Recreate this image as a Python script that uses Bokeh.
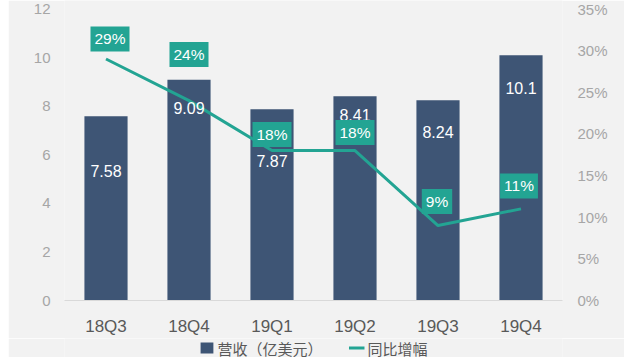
from bokeh.plotting import figure
from bokeh.layouts import row, column
from bokeh.models import (ColumnDataSource, Range1d, LinearAxis, FactorRange, Spacer,
                          Legend, LegendItem, FixedTicker, CustomJSTickFormatter)
from bokeh.core.properties import value
from bokeh.embed import file_html
from bokeh.resources import INLINE

quarters = ["18Q3", "18Q4", "19Q1", "19Q2", "19Q3", "19Q4"]
revenue = [7.58, 9.09, 7.87, 8.41, 8.24, 10.1]
growth = [29, 24, 18, 18, 9, 11]
revenue_text = ["7.58", "9.09", "7.87", "8.41", "8.24", "10.1"]
growth_text = ["29%", "24%", "18%", "18%", "9%", "11%"]
left_ticks = [0, 2, 4, 6, 8, 10, 12]
right_ticks = [0, 5, 10, 15, 20, 25, 30, 35]
legend_labels = ["营收（亿美元）", "同比增幅"]

# label layout (screen px, downward positive)
rev_label_drop = [55, 28, 52, 19, 32, 33]
pct_label_rise = [20, 46, 16, 18, 24, 23]
pct_label_shift = [4, 0, 0, 0, -1, -2]

BAR = "#3e5575"
TEAL = "#23a493"
BG = "#f2f2f2"

src = ColumnDataSource(dict(
    q=quarters, rev=revenue, g=growth, rt=revenue_text, gt=growth_text,
    rdrop=rev_label_drop, grise=[-r for r in pct_label_rise], gshift=pct_label_shift,
))

top = 12.35
p = figure(x_range=FactorRange(*quarters), y_range=Range1d(0, top),
           width=616, height=338, output_backend="svg", toolbar_location=None,
           min_border_left=56, min_border_right=62, min_border_top=0, min_border_bottom=36)
p.extra_y_ranges = {"pct": Range1d(0, top * 35 / 12)}
p.background_fill_color = BG
p.border_fill_color = BG
p.outline_line_color = None
p.grid.visible = False
p.x_range.range_padding = 0

bars = p.vbar(x="q", top="rev", width=0.52, source=src, fill_color=BAR, line_color=None)
line = p.line(x="q", y="g", source=src, y_range_name="pct", line_color=TEAL, line_width=3)

# axes
p.yaxis.ticker = FixedTicker(ticks=left_ticks)
p.yaxis.axis_line_color = None
p.yaxis.major_tick_line_color = None
p.yaxis.minor_tick_line_color = None
p.yaxis.major_tick_out = 0
p.yaxis.major_label_text_color = "#a6a6a6"
p.yaxis.major_label_text_font = "Liberation Sans"
p.yaxis.major_label_text_font_size = "15px"
p.yaxis.major_label_standoff = 14

ra = LinearAxis(y_range_name="pct", ticker=FixedTicker(ticks=right_ticks),
                formatter=CustomJSTickFormatter(code="return tick + '%';"))
ra.axis_line_color = None
ra.major_tick_line_color = None
ra.minor_tick_line_color = None
ra.major_tick_out = 0
ra.major_label_text_color = "#a6a6a6"
ra.major_label_text_font = "Liberation Sans"
ra.major_label_text_font_size = "15px"
ra.major_label_standoff = 15
p.add_layout(ra, "right")

p.xaxis.axis_line_color = "#d9d9d9"
p.xaxis.axis_line_width = 1
p.xaxis.major_tick_line_color = None
p.xaxis.minor_tick_line_color = None
p.xaxis.major_tick_out = 0
p.xaxis.major_tick_in = 0
p.xaxis.major_label_text_color = "#595959"
p.xaxis.major_label_text_font = "Liberation Sans"
p.xaxis.major_label_text_font_size = "17px"
p.xaxis.major_label_standoff = 16

# value labels
p.text(x="q", y="rev", text="rt", y_offset="rdrop", source=src,
       text_color="white", text_font=value("Liberation Sans"), text_font_size="16px",
       text_align="center", text_baseline="middle")
p.text(x="q", y="g", text="gt", x_offset="gshift", y_offset="grise", source=src, y_range_name="pct",
       text_color="white", text_font=value("Liberation Sans"), text_font_size="15.5px",
       text_align="center", text_baseline="middle",
       background_fill_color=TEAL, padding=4)

# legend strip (separate small plot below the chart)
lg = figure(width=616, height=19, output_backend="svg", toolbar_location=None,
            x_range=Range1d(0, 1), y_range=Range1d(0, 1),
            min_border_left=0, min_border_right=0, min_border_top=0, min_border_bottom=0)
lg.axis.visible = False
lg.grid.visible = False
lg.outline_line_color = None
lg.background_fill_color = BG
lg.border_fill_color = BG
# proxy glyphs for the legend keys, placed outside the visible range
lbar = lg.vbar(x=[-10], top=[-10], width=0.5, fill_color=BAR, line_color=None)
lline = lg.line(x=[-10, -9], y=[-10, -10], line_color=TEAL, line_width=3)
legend = Legend(items=[LegendItem(label=legend_labels[0], renderers=[lbar]),
                       LegendItem(label=legend_labels[1], renderers=[lline])],
                orientation="horizontal", location="center",
                label_text_font="Noto Sans CJK SC", label_text_font_size="15px",
                label_text_color="#595959", glyph_width=16, glyph_height=14,
                label_height=14, label_standoff=3, spacing=26, padding=0, margin=0,
                border_line_color=None, background_fill_alpha=0)
lg.add_layout(legend, "center")

layout = row(Spacer(width=8, height=357), column(p, lg))
open("out.html", "w").write(file_html(layout, INLINE))
